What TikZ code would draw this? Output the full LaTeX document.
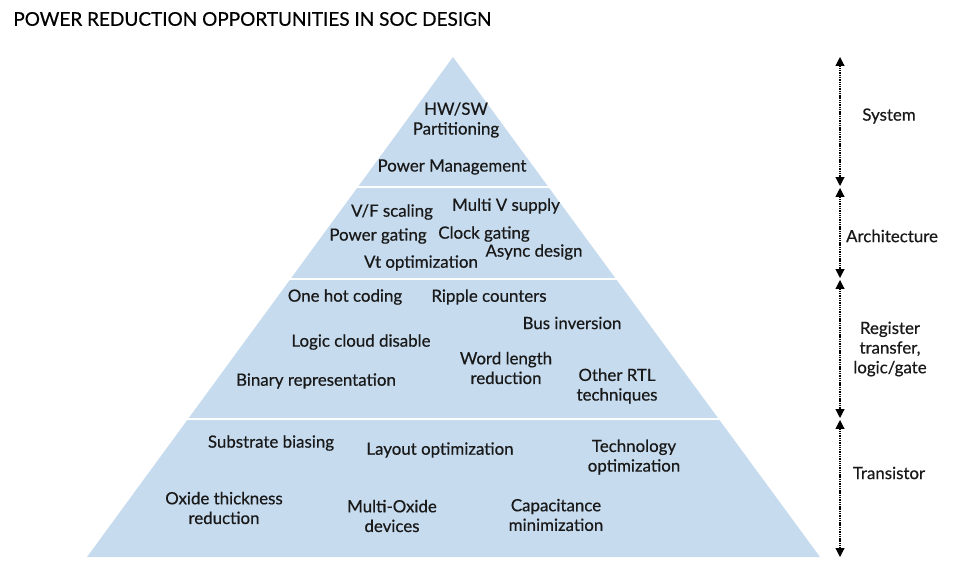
\documentclass[tikz,border=0pt]{standalone}
\usepackage{fontspec}
\setmainfont{Lato}[FakeBold=0.5]
\usepackage{xcolor}
\usetikzlibrary{positioning,arrows.meta}
\definecolor{pyrblue}{RGB}{198,219,238}

\begin{document}
\begin{tikzpicture}[
  x=0.02cm, y=-0.02cm,
  font=\fontsize{9.6}{11.2}\selectfont,
  item/.style={align=center, inner sep=1pt, text=black!90},
  level/.style={item, align=center},
  gap/.style={draw=white, line width=1.7pt},
  span/.style={dash pattern=on 0.8pt off 0.5pt, line width=0.6pt,
               {Triangle[length=5pt,width=5pt]}-{Triangle[length=5pt,width=5pt]}},
]
\useasboundingbox (0,0) rectangle (953,574);

% pyramid
\fill[pyrblue] (453,57) -- (820,557) -- (87,557) -- cycle;
\draw[gap] (80,187) -- (830,187);
\draw[gap] (80,279) -- (830,279);
\draw[gap] (80,419) -- (830,419);

% title
\node[anchor=west, inner sep=0pt, font=\fontsize{10.8}{13}\selectfont] (title) at (13,19) {POWER REDUCTION OPPORTUNITIES IN SOC DESIGN};

% system
\node[item] (hwsw) at (456,120) {HW/SW\\Partitioning};
\node[item] (pm) at (452,167) {Power Management};

% architecture
\node[item] (vf) at (392,212) {V/F scaling};
\node[item] (mv) at (506,206) {Multi V supply};
\node[item] (pg) at (378,236) {Power gating};
\node[item] (cg) at (484,234) {Clock gating};
\node[item] (ad) at (534,252) {Async design};
\node[item] (vt) at (421,263) {Vt optimization};

% register transfer
\node[item] (oh) at (345,297) {One hot coding};
\node[item] (rc) at (489,297) {Ripple counters};
\node[item] (bi) at (572,323) {Bus inversion};
\node[item] (lc) at (361,342) {Logic cloud disable};
\node[item] (wl) at (506,368) {Word length\\reduction};
\node[item] (br) at (316,381) {Binary representation};
\node[item] (or) at (617,386) {Other RTL\\techniques};

% transistor
\node[item] (sb) at (271,443) {Substrate biasing};
\node[item] (lo) at (440,450) {Layout optimization};
\node[item] (to) at (634,457) {Technology\\optimization};
\node[item] (ot) at (224,508) {Oxide thickness\\reduction};
\node[item] (mo) at (392,516) {Multi-Oxide\\devices};
\node[item] (cm) at (556,515) {Capacitance\\minimization};

% scale on the right
\coordinate (s0) at (840,57);
\coordinate (s1a) at (840,186);
\coordinate (s1b) at (840,188);
\coordinate (s2a) at (840,278);
\coordinate (s2b) at (840,280);
\coordinate (s3a) at (840,418);
\coordinate (s3b) at (840,420);
\coordinate (s4) at (840,557);
\draw[span] (s0) -- (s1a);
\draw[span] (s1b) -- (s2a);
\draw[span] (s2b) -- (s3a);
\draw[span] (s3b) -- (s4);

\node[level] (sys) at (889,116) {System};
\node[level] (arch) at (892,236) {Architecture};
\node[level] (rtl) at (890,349) {Register\\transfer,\\logic/gate};
\node[level] (tr) at (889,473) {Transistor};
\end{tikzpicture}
\end{document}
